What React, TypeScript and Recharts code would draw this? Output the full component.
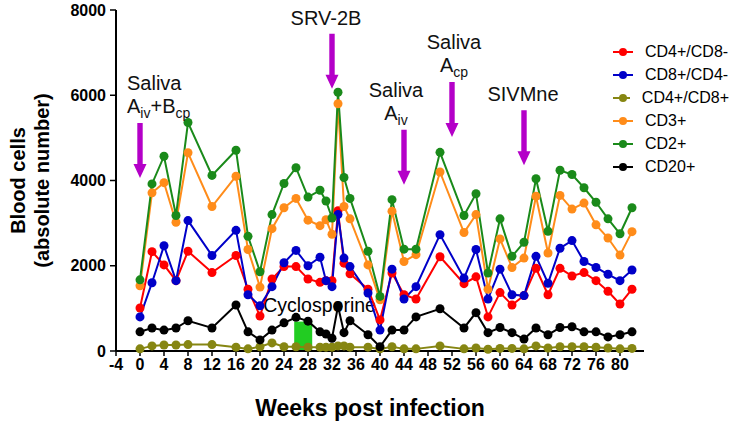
import React from 'react';
import { LineChart, Line, XAxis, YAxis, ReferenceArea, ReferenceDot, Label } from 'recharts';

const weeks = [0, 2, 4, 6, 8, 12, 16, 18, 20, 22, 24, 26, 28, 30, 31, 32, 33, 34, 35, 38, 40, 42, 44, 46, 50, 54, 56, 58, 60, 62, 64, 66, 68, 70, 72, 74, 76, 78, 80, 82];
const cd4Cd8Neg = [1010, 2330, 2020, 1650, 2340, 1840, 2240, 1450, 820, 1690, 1980, 1980, 1690, 1610, 1650, 1650, 3290, 2060, 1810, 1450, 730, 1830, 1320, 1220, 2210, 1580, 1740, 800, 1370, 1080, 1300, 1940, 1320, 1940, 1760, 1840, 1650, 1400, 1100, 1450];
const cd8Cd4Neg = [800, 1600, 2470, 1650, 3060, 2240, 2830, 1320, 1060, 1510, 2070, 2360, 2000, 2200, 1650, 1510, 3200, 2180, 1980, 1360, 490, 1920, 1220, 1510, 2730, 1710, 2380, 1220, 1920, 1320, 1300, 2220, 1590, 2410, 2590, 2100, 1960, 1800, 1650, 1900];
const cd4Cd8Pos = [50, 120, 140, 140, 150, 150, 90, 50, 100, 190, 100, 100, 90, 90, 90, 90, 120, 120, 90, 90, 50, 100, 50, 50, 120, 50, 70, 40, 60, 60, 50, 120, 70, 100, 100, 100, 90, 70, 50, 60];
const cd3 = [1530, 3710, 3950, 3020, 4650, 3390, 4100, 2380, 1500, 2870, 3360, 3580, 3070, 2940, 3080, 2740, 5800, 3390, 3100, 2020, 1200, 3280, 2100, 2260, 4200, 2780, 3200, 1450, 2630, 1960, 2180, 3630, 2300, 3650, 3330, 3470, 2960, 2650, 2250, 2800];
const cd2 = [1670, 3920, 4570, 3180, 5360, 4120, 4710, 2690, 1860, 3200, 3930, 4300, 3610, 3770, 3520, 3120, 6070, 4070, 3580, 2340, 1280, 3550, 2390, 2390, 4660, 3180, 3690, 1830, 3100, 2220, 2550, 4040, 2810, 4240, 4140, 3830, 3490, 3100, 2750, 3360];
const cd20 = [450, 540, 490, 540, 710, 540, 1080, 450, 260, 490, 660, 790, 700, 450, 400, 300, 1050, 430, 710, 380, 100, 490, 490, 800, 990, 540, 900, 430, 550, 430, 280, 540, 380, 550, 570, 450, 450, 330, 380, 450];

const xTicks = [-4, 0, 4, 8, 12, 16, 20, 24, 28, 32, 36, 40, 44, 48, 52, 56, 60, 64, 68, 72, 76, 80];
const yTicks = [0, 2000, 4000, 6000, 8000];

const series = [
  { key: 'cd4Cd8Neg', name: 'CD4+/CD8-', color: '#ff0000', values: cd4Cd8Neg },
  { key: 'cd8Cd4Neg', name: 'CD8+/CD4-', color: '#0000c8', values: cd8Cd4Neg },
  { key: 'cd4Cd8Pos', name: 'CD4+/CD8+', color: '#868612', values: cd4Cd8Pos },
  { key: 'cd3', name: 'CD3+', color: '#ff8c1a', values: cd3 },
  { key: 'cd2', name: 'CD2+', color: '#1a8a1a', values: cd2 },
  { key: 'cd20', name: 'CD20+', color: '#000000', values: cd20 },
];

const data = weeks.map((w, i) => {
  const row: any = { week: w };
  series.forEach((s) => { row[s.key] = s.values[i]; });
  return row;
});

type Seg = { t: string; sub?: boolean };
const annotations: { week: number; tip: number; lines: Seg[][]; dx: number; anchor: string }[] = [
  { week: 0, tip: 4060, lines: [[{ t: 'Saliva' }], [{ t: 'A' }, { t: 'iv', sub: true }, { t: '+B' }, { t: 'cp', sub: true }]], dx: -13, anchor: 'start' },
  { week: 32, tip: 6150, lines: [[{ t: 'SRV-2B' }]], dx: -6, anchor: 'middle' },
  { week: 44, tip: 3900, lines: [[{ t: 'Saliva' }], [{ t: 'A' }, { t: 'iv', sub: true }]], dx: -8, anchor: 'middle' },
  { week: 52, tip: 5020, lines: [[{ t: 'Saliva' }], [{ t: 'A' }, { t: 'cp', sub: true }]], dx: 2, anchor: 'middle' },
  { week: 64, tip: 4360, lines: [[{ t: 'SIVMne' }]], dx: -1, anchor: 'middle' },
];

const FONT = '"Liberation Sans", Arial, Helvetica, sans-serif';
const ARROW = '#b400c8';

const makeArrow = (a: typeof annotations[number]) => (props: any) => {
  const { cx, cy } = props;
  if (cx == null || cy == null) return <g />;
  const len = 55;
  const top = cy - len;
  const headLen = 14;
  const hw = 6.5;
  const sw = 2.7;
  const pts = [
    [cx - sw, top], [cx + sw, top], [cx + sw, cy - headLen], [cx + hw, cy - headLen],
    [cx, cy], [cx - hw, cy - headLen], [cx - sw, cy - headLen],
  ].map((p) => p.join(',')).join(' ');
  const n = a.lines.length;
  return (
    <g>
      <polygon points={pts} fill={ARROW} />
      {a.lines.map((line, li) => {
        const baseline = n === 1 ? top - 9 : (li === n - 1 ? top - 10 : top - 33);
        let prevSub = false;
        return (
          <text key={li} x={cx + a.dx} y={baseline} textAnchor={a.anchor as any} fontFamily={FONT} fontSize={20} fill="#111">
            {line.map((seg, si) => {
              const sub = !!seg.sub;
              const dy = sub && !prevSub ? 5 : !sub && prevSub ? -5 : 0;
              prevSub = sub;
              return (
                <tspan key={si} dy={dy} fontSize={sub ? 14 : 20}>{seg.t}</tspan>
              );
            })}
          </text>
        );
      })}
    </g>
  );
};

const CycloLabel = (props: any) => {
  const vb = props.viewBox || {};
  return (
    <text x={vb.x - 31} y={vb.y - 10} fontFamily={FONT} fontSize={19.5} fill="#000">Cyclosporine</text>
  );
};

const YTitle = (props: any) => {
  const vb = props.viewBox || { x: 0, y: 10, height: 341 };
  const cy = vb.y + vb.height / 2;
  const x1 = 18;
  const x2 = 42;
  return (
    <g fontFamily={FONT} fontWeight="bold" fontSize={20} fill="#000">
      <text x={x1} y={cy} transform={`rotate(-90, ${x1}, ${cy})`} textAnchor="middle" dominantBaseline="central">Blood cells</text>
      <text x={x2} y={cy} transform={`rotate(-90, ${x2}, ${cy})`} textAnchor="middle" dominantBaseline="central">(absolute number)</text>
    </g>
  );
};

const XTitle = (props: any) => {
  const vb = props.viewBox || { x: 116, y: 351, width: 528 };
  const cx = vb.x + vb.width / 2 - 10;
  return (
    <text x={cx} y={416} textAnchor="middle" fontFamily={FONT} fontWeight="bold" fontSize={23} fill="#000">Weeks post infection</text>
  );
};

const LegendBox = () => (
  <div style={{ position: 'absolute', left: 613, top: 40, width: 116, fontFamily: FONT, fontSize: 16, color: '#000' }}>
    {series.map((s) => (
      <div key={s.key} style={{ height: 23, display: 'flex', alignItems: 'center', whiteSpace: 'nowrap' }}>
        <svg width={20} height={10} style={{ display: 'block' }}>
          <line x1={0} y1={5} x2={20} y2={5} stroke={s.color} strokeWidth={2} />
          <circle cx={10} cy={5} r={4} fill={s.color} />
        </svg>
        <span style={{ marginLeft: 12 }}>{s.name}</span>
      </div>
    ))}
  </div>
);

export default function App() {
  return (
    <div style={{ position: 'absolute', left: 0, top: 0, width: 729, height: 421, background: '#fff' }}>
      <LineChart width={729} height={421} data={data} margin={{ top: 10, right: 85, bottom: 40, left: 0 }}>
        <XAxis
          dataKey="week"
          type="number"
          domain={[-4, 84]}
          ticks={xTicks}
          interval={0}
          height={30}
          tickSize={5}
          tickMargin={3}
          axisLine={{ stroke: '#000', strokeWidth: 2 }}
          tickLine={{ stroke: '#000', strokeWidth: 1.5 }}
          tick={{ fill: '#000', fontSize: 16, fontWeight: 'bold', fontFamily: '"Liberation Sans Narrow", "Arial Narrow", "Liberation Sans", Arial, sans-serif' }}
        >
          <Label content={<XTitle />} />
        </XAxis>
        <YAxis
          type="number"
          domain={[0, 8000]}
          ticks={yTicks}
          width={116}
          tickSize={6}
          tickMargin={4}
          axisLine={{ stroke: '#000', strokeWidth: 2 }}
          tickLine={{ stroke: '#000', strokeWidth: 1.5 }}
          tick={{ fill: '#000', fontSize: 16, fontWeight: 'bold', fontFamily: FONT }}
        >
          <Label content={<YTitle />} />
        </YAxis>
        <ReferenceArea x1={25.7} x2={28.7} y1={0} y2={690} fill="#22cc22" fillOpacity={1} stroke="none" label={<CycloLabel />} ifOverflow="visible" />
        {series.map((s) => (
          <Line
            key={s.key}
            dataKey={s.key}
            name={s.name}
            type="linear"
            stroke={s.color}
            strokeWidth={2}
            dot={{ r: 4.5, fill: s.color, stroke: s.color, strokeWidth: 0 }}
            activeDot={false}
            isAnimationActive={false}
          />
        ))}
        {annotations.map((a, i) => (
          <ReferenceDot key={i} x={a.week} y={a.tip} r={0} ifOverflow="visible" shape={makeArrow(a)} />
        ))}
      </LineChart>
      <LegendBox />
    </div>
  );
}
